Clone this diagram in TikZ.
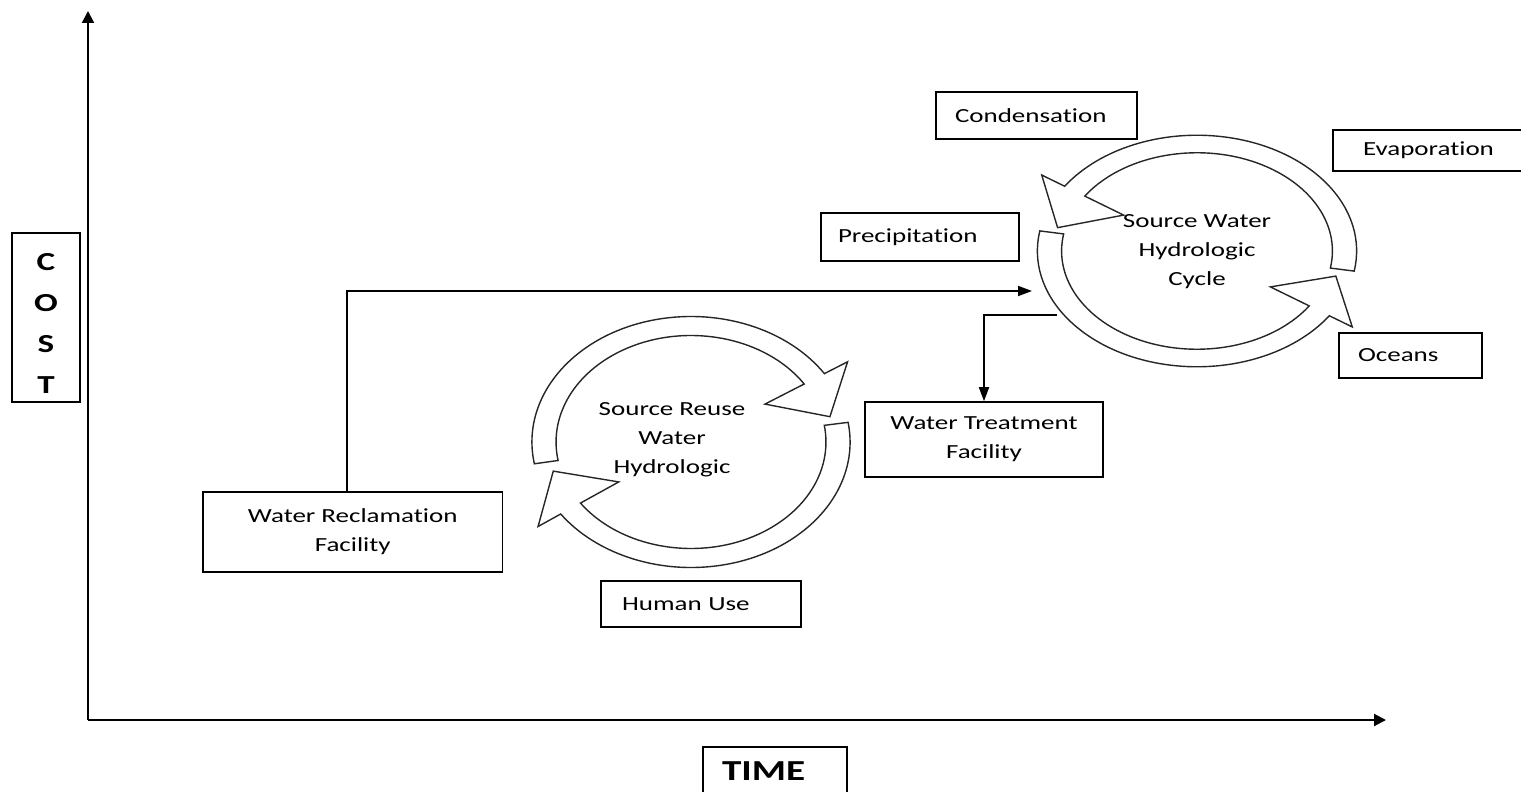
\documentclass[tikz,border=0pt]{standalone}
\usepackage{fontspec}
\setmainfont{Carlito}[FakeStretch=1.35, Ligatures=NoCommon]
\usetikzlibrary{arrows.meta}
\tikzset{
	box/.style={draw, line width=0.8pt, inner sep=0pt, align=center, font=\fontsize{10}{14.5}\selectfont},
	lbox/.style={box, align=left},
	cyc/.style={draw=black!85, line width=0.7pt},
	conn/.style={line width=0.9pt, -{Triangle[length=7pt,width=5pt]}},
	axis/.style={line width=1pt, -{Triangle[length=6pt,width=6pt]}}
}
% one hollow block arrow on a ring: tail angle, head base angle, tip angle
\newcommand{\cycarrow}[3]{%
	\draw[cyc] (#1:1.082) arc[start angle=#1, end angle=#2, radius=1.082]
		-- (#2:1.27) -- (#3:0.97) -- (#2:0.6) -- (#2:0.918)
		arc[start angle=#2, end angle=#1, radius=0.918] -- cycle;}

\begin{document}
\begin{tikzpicture}[x=0.5pt, y=-0.5pt]
	\useasboundingbox (0,0) rectangle (1521,792);
	\clip (0,0) rectangle (1521,792);
	% axes
	\coordinate (origin) at (88,720);
	\coordinate (ytop) at (88,11);
	\coordinate (xend) at (1386,720);
	\draw[axis] (origin) -- (ytop);
	\draw[axis] (origin) -- (xend);
	\node[box, minimum width=34pt, minimum height=84.5pt, font=\bfseries\fontsize{13}{20.5}\selectfont] at (46,317.5) (cost) {\rule{0pt}{14.5pt}C\\O\\S\\T};
	\node[lbox, inner xsep=9.5pt, text width=53pt, minimum height=24pt, font=\bfseries\fontsize{14.5}{17}\selectfont] at (775,771) (time) {TIME};
	%
	\node[box, minimum width=149.75pt, minimum height=40pt] at (352.75,532) (recl) {Water Reclamation\\Facility};
	\node[box, minimum width=119pt, minimum height=37.5pt] at (984,439.5) (treat) {Water Treatment\\Facility};
	\node[lbox, inner xsep=10.5pt, text width=79pt, minimum height=23pt] at (701,604) (human) {Human Use};
	\node[lbox, inner xsep=8.5pt, text width=82pt, minimum height=24pt] at (920,237) (precip) {Precipitation};
	\node[lbox, inner xsep=9.5pt, text width=81.5pt, minimum height=23.5pt] at (1036.5,115.5) (cond) {Condensation};
	\node[lbox, inner xsep=15pt, text width=68.5pt, minimum height=20.5pt] at (1431.5,150.5) (evap) {Evaporation};
	\node[lbox, inner xsep=9.5pt, text width=52.5pt, minimum height=22.5pt] at (1410.5,355.5) (oceans) {Oceans};
	%
	% source water cycle
	\begin{scope}[shift={(1197,251)}, xscale=147.5, yscale=-107]
		\cycarrow{-10}{146}{167}
		\cycarrow{170}{326}{346}
	\end{scope}
	\node[align=center, font=\fontsize{10}{14.5}\selectfont] at (1197,251.5) (srcw) {Source Water\\Hydrologic\\Cycle};
	% reuse cycle
	\begin{scope}[shift={(691,442)}, xscale=147, yscale=-116]
		\cycarrow{190}{33}{13}
		\cycarrow{9}{-145}{-165}
	\end{scope}
	\node[align=center, font=\fontsize{10}{14.5}\selectfont] at (672,439.5) (reuse) {Source Reuse\\Water\\Hydrologic};
	%
	\coordinate (rin) at (1032,291);
	\coordinate (cout) at (1057,315);
	\draw[conn] ([xshift=-2.9pt]recl.north) |- (rin);
	\draw[conn] (cout) -| (treat.north);
\end{tikzpicture}
\end{document}
